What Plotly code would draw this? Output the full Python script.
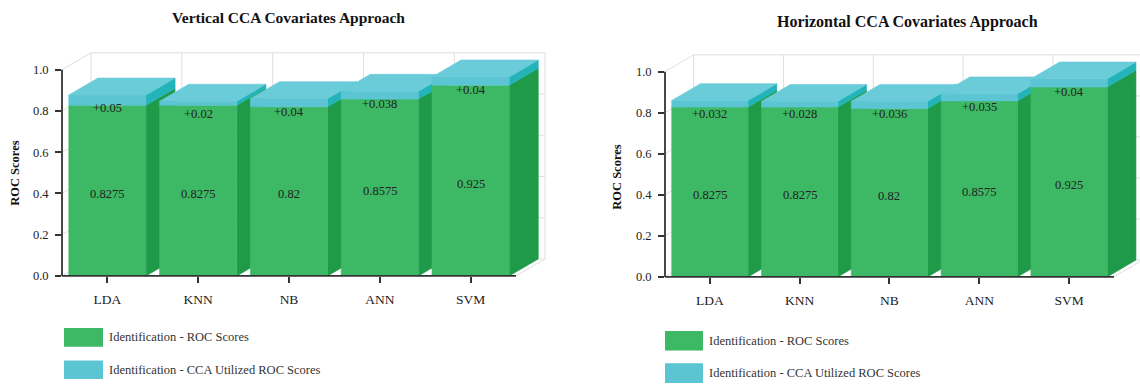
import plotly.graph_objects as go

# ---- data -------------------------------------------------------------
categories = ["LDA", "KNN", "NB", "ANN", "SVM"]
roc_scores = [0.8275, 0.8275, 0.82, 0.8575, 0.925]
cca_gain_vertical = [0.05, 0.02, 0.04, 0.038, 0.04]
cca_gain_horizontal = [0.032, 0.028, 0.036, 0.035, 0.04]
y_ticks = [0.0, 0.2, 0.4, 0.6, 0.8, 1.0]
panel_titles = ["Vertical CCA Covariates Approach", "Horizontal CCA Covariates Approach"]
series_names = ["Identification - ROC Scores", "Identification - CCA Utilized ROC Scores"]
axis_title = "ROC Scores"

# ---- style ------------------------------------------------------------
W, H = 1140, 388
SERIF = "Liberation Serif, Times New Roman, serif"
DEPTH_X, DEPTH_Y = 0.32, 0.082      # pseudo-3D depth offset (axis units)
BAR_W = 0.85
G_FRONT, G_SIDE = "#3db864", "#1f9a48"
C_FRONT, C_SIDE, C_TOP = "#5bc5d3", "#22b4b9", "#6acbd9"
GRID = "#dedede"
AXIS = "#333333"

panels = [
    dict(ax="", px_x0=62, slot=90.8, px_y0=281, unit=210, x_max=4.83, y_max=1.09,
         gains=cca_gain_vertical, title=panel_titles[0], title_px=(288, 18), title_size=15.5,
         ytitle_px=(15, 176), legend_px=(64, 334, 39, 19, 33)),
    dict(ax="2", px_x0=665, slot=89.8, px_y0=282, unit=209, x_max=4.79, y_max=1.09,
         gains=cca_gain_horizontal, title=panel_titles[1], title_px=(907, 22), title_size=16,
         ytitle_px=(617, 180), legend_px=(665, 337, 38, 20, 33)),
]


def to_paper(p, x, y):
    px = p["px_x0"] + (x + 0.5) * p["slot"]
    py = p["px_y0"] - y * p["unit"]
    return px / W, 1 - py / H


fig = go.Figure()
shapes, annotations = [], []
layout_axes = {}


def poly(p, xs, ys, color):
    fig.add_trace(go.Scatter(
        x=xs + [xs[0]], y=ys + [ys[0]], mode="lines", fill="toself",
        fillcolor=color, line=dict(color=color, width=0.6),
        xaxis="x" + p["ax"], yaxis="y" + p["ax"], hoverinfo="skip", showlegend=False))


for p in panels:
    ax = p["ax"]
    n = len(categories)
    x_left, x_right = -0.5, n - 0.5

    # back wall, left wall and floor grid
    gx, gy = [], []
    for v in y_ticks:
        gx += [x_left + DEPTH_X, x_right + DEPTH_X, None]
        gy += [v + DEPTH_Y, v + DEPTH_Y, None]
        gx += [x_left, x_left + DEPTH_X, None]
        gy += [v, v + DEPTH_Y, None]
    for k in range(n + 1):
        gx += [x_left + k + DEPTH_X, x_left + k + DEPTH_X, None]
        gy += [DEPTH_Y, y_ticks[-1] + DEPTH_Y, None]
    gx += [x_right, x_right + DEPTH_X, None]
    gy += [0, DEPTH_Y, None]
    fig.add_trace(go.Scatter(x=gx, y=gy, mode="lines", line=dict(color=GRID, width=1),
                             xaxis="x" + ax, yaxis="y" + ax, hoverinfo="skip", showlegend=False))

    # bars, drawn left to right so each front face covers the previous side
    for i, (g, c) in enumerate(zip(roc_scores, p["gains"])):
        l, r = i - BAR_W / 2, i + BAR_W / 2
        t = g + c
        poly(p, [r, r + DEPTH_X, r + DEPTH_X, r], [0, DEPTH_Y, g + DEPTH_Y, g], G_SIDE)
        poly(p, [r, r + DEPTH_X, r + DEPTH_X, r], [g, g + DEPTH_Y, t + DEPTH_Y, t], C_SIDE)
        poly(p, [l, r, r, l], [0, 0, g, g], G_FRONT)
        poly(p, [l, r, r, l], [g, g, t, t], C_FRONT)
        poly(p, [l, l + DEPTH_X, r + DEPTH_X, r], [t, t + DEPTH_Y, t + DEPTH_Y, t], C_TOP)

        annotations.append(dict(x=i, y=g / 2, xref="x" + ax, yref="y" + ax, text=str(g),
                                showarrow=False, yshift=-3, xanchor="center", yanchor="middle",
                                font=dict(family=SERIF, size=12.5, color="#222")))
        annotations.append(dict(x=i, y=t, xref="x" + ax, yref="y" + ax, text="+" + str(c),
                                showarrow=False, yanchor="top", xanchor="center", yshift=-4,
                                font=dict(family=SERIF, size=12.5, color="#222")))

    # axes
    x0p, y0p = to_paper(p, -0.5, 0)
    x1p, y1p = to_paper(p, p["x_max"], p["y_max"])
    layout_axes["xaxis" + ax] = dict(
        domain=[x0p, min(1.0, x1p)], range=[-0.5, p["x_max"]], anchor="y" + ax,
        tickvals=list(range(n)), ticktext=categories, ticks="outside", ticklen=6,
        tickcolor=AXIS, tickwidth=1.5, showgrid=False, zeroline=False, showline=False,
        ticklabelstandoff=5, tickfont=dict(family=SERIF, size=13.5, color="#222"),
        fixedrange=True)
    layout_axes["yaxis" + ax] = dict(
        domain=[y0p, y1p], range=[0, p["y_max"]], anchor="x" + ax,
        tickvals=y_ticks, ticktext=[f"{v:.1f}" for v in y_ticks], ticks="outside",
        ticklen=6, tickcolor=AXIS, tickwidth=1.5, showgrid=False, zeroline=False,
        showline=False, ticklabelstandoff=4,
        tickfont=dict(family=SERIF, size=12.5, color="#222"), fixedrange=True)

    # axis lines on the front plane
    xa, ya = to_paper(p, -0.5, 0)
    xb, _ = to_paper(p, n - 0.5, 0)
    _, yb = to_paper(p, -0.5, y_ticks[-1])
    shapes.append(dict(type="line", xref="paper", yref="paper", x0=xa, y0=ya, x1=xa, y1=yb,
                       line=dict(color=AXIS, width=1.8)))
    shapes.append(dict(type="line", xref="paper", yref="paper", x0=xa, y0=ya, x1=xb, y1=ya,
                       line=dict(color=AXIS, width=1.8)))

    # titles
    tx, ty = p["title_px"]
    annotations.append(dict(x=tx / W, y=1 - ty / H, xref="paper", yref="paper",
                            xanchor="center", yanchor="middle",
                            text="<b>" + p["title"] + "</b>", showarrow=False,
                            font=dict(family=SERIF, size=p["title_size"], color="#111")))
    yx, yy = p["ytitle_px"]
    annotations.append(dict(x=yx / W, y=1 - yy / H, xref="paper", yref="paper",
                            xanchor="center", yanchor="middle",
                            text="<b>" + axis_title + "</b>", showarrow=False, textangle=-90,
                            font=dict(family=SERIF, size=12.5, color="#111")))

    # legend swatches
    lx, ly, lw, lh, gap = p["legend_px"]
    for j, (name, col) in enumerate(zip(series_names, [G_FRONT, C_FRONT])):
        top = ly + j * gap
        shapes.append(dict(type="rect", xref="paper", yref="paper",
                           x0=lx / W, x1=(lx + lw) / W, y0=1 - (top + lh) / H, y1=1 - top / H,
                           fillcolor=col, line=dict(width=0)))
        annotations.append(dict(x=(lx + lw + 4) / W, y=1 - (top + lh / 2) / H,
                                xref="paper", yref="paper", xanchor="left", yanchor="middle",
                                text=name, showarrow=False,
                                font=dict(family=SERIF, size=12.5, color="#333")))

fig.update_layout(
    width=W, height=H, margin=dict(l=0, r=0, t=0, b=0),
    paper_bgcolor="white", plot_bgcolor="white", showlegend=False,
    shapes=shapes, annotations=annotations, **layout_axes)

fig.write_html("out.html", config={"displayModeBar": False})
